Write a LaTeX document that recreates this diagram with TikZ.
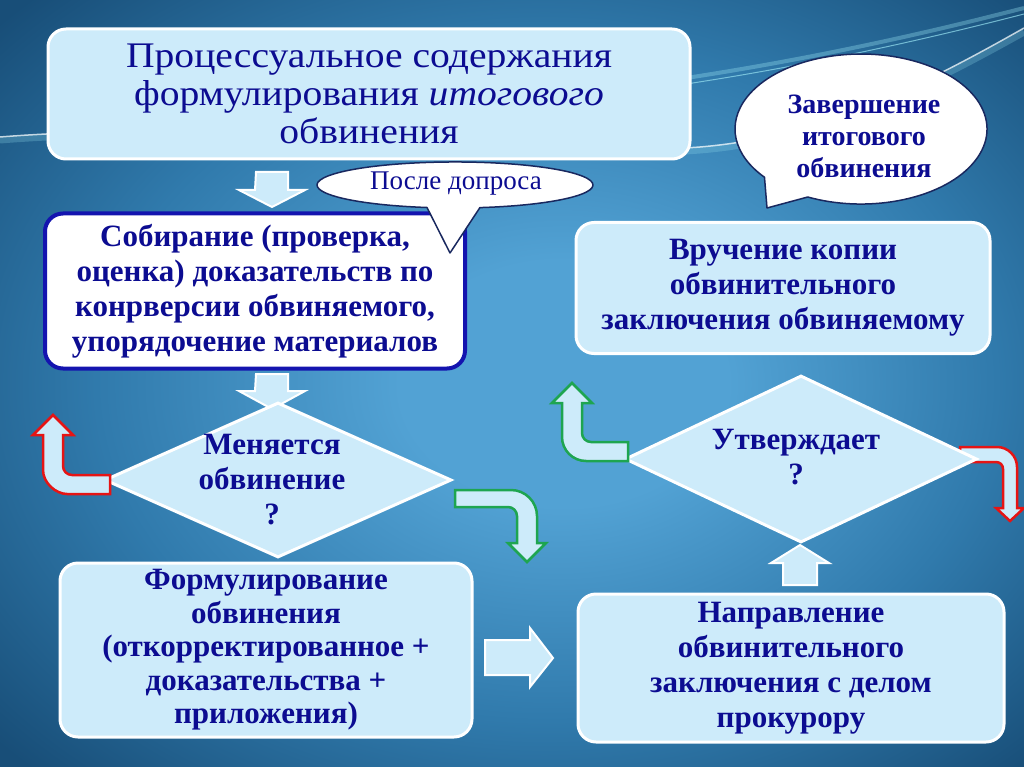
\documentclass[tikz,border=0pt]{standalone}
\usepackage{fontspec}
\setmainfont{Liberation Serif}
\newfontfamily\titlefont[FakeStretch=1.1]{Liberation Serif}
\usetikzlibrary{shapes.geometric}
\definecolor{boxfill}{RGB}{205,235,250}
\definecolor{txtblue}{RGB}{12,12,145}
\definecolor{bgin}{RGB}{82,162,212}
\definecolor{bgmid}{RGB}{48,122,172}
\definecolor{bgout}{RGB}{24,78,120}
\definecolor{redline}{RGB}{230,20,20}
\definecolor{greenline}{RGB}{30,165,80}
\definecolor{navyline}{RGB}{25,40,95}
\definecolor{bordblue}{RGB}{20,20,175}
\definecolor{wavecol}{RGB}{150,225,240}
\pgfdeclareradialshading{bgshade}{\pgfpoint{3bp}{0bp}}{color(0bp)=(bgin); color(8bp)=(bgin); color(22bp)=(bgmid); color(35bp)=(bgout); color(50bp)=(bgout)}
\newcommand\titletxt{\titlefont\fontsize{36}{38}\selectfont}
\newcommand\boldtxt{\bfseries\fontsize{31}{35}\selectfont}
\newcommand\bubbletxt{\bfseries\fontsize{28}{32}\selectfont}
\begin{document}
\begin{tikzpicture}[x=1pt,y=-1pt,
  box/.style={draw=white, line width=3pt, fill=boxfill, rounded corners=18pt,
    align=center, text=txtblue, inner sep=0pt, font=\boldtxt},
  qshape/.style={diamond, draw=white, line width=3pt, fill=boxfill, inner sep=0pt},
  qtxt/.style={align=center, text=txtblue, font=\boldtxt},
  bubble/.style={draw=navyline, line width=1.5pt, fill=white, line join=round},
  whitearrow/.style={draw=white, line width=2pt, fill=boxfill},
  redarrow/.style={draw=redline, line width=2.5pt, fill=boxfill},
  greenarrow/.style={draw=greenline, line width=2.5pt, fill=boxfill}]
  % 背景
  \useasboundingbox (0,0) rectangle (1024,767);
  \shade[shading=bgshade] (0,0) rectangle (1024,767);
  \draw[wavecol, line width=7pt, opacity=.25] (0,140) .. controls (250,120) and (500,165) .. (700,150)
    .. controls (820,140) and (920,90) .. (1024,32);
  \draw[white, line width=1.5pt, opacity=.7] (0,137) .. controls (250,117) and (500,162) .. (700,147)
    .. controls (820,137) and (920,87) .. (1024,28);
  \draw[wavecol, line width=4pt, opacity=.35] (600,90) .. controls (760,70) and (900,40) .. (1024,8);
  \draw[wavecol, line width=1pt, opacity=.7] (600,96) .. controls (760,76) and (900,46) .. (1024,14);
  % 标题
  \node[box, minimum width=642, minimum height=130, font=\titletxt] (title) at (369,94)
    {Процессуальное содержания\\формулирования \textit{итогового}\\обвинения};
  % 左列
  \node[box, draw=bordblue, line width=4pt, fill=white, minimum width=420, minimum height=155] (collect) at (255,291)
    {Собирание (проверка,\\оценка) доказательств по\\конрверсии обвиняемого,\\упорядочение материалов};
  \node[box, minimum width=412, minimum height=174, font=\bfseries\fontsize{31}{33.5}\selectfont] (formula) at (266,650)
    {Формулирование\\обвинения\\(откорректированное +\\доказательства +\\приложения)};
  % 右列
  \node[box, minimum width=426, minimum height=148] (send) at (791,668)
    {Направление\\обвинительного\\заключения с делом\\прокурору};
  \node[box, minimum width=414, minimum height=131] (handover) at (783,288)
    {Вручение копии\\обвинительного\\заключения обвиняемому};
  % 直箭头
  \draw[whitearrow] (256,172) -- ++(32,0) -- ++(0,18) -- ++(17,0) -- ++(-33,17) -- ++(-33,-17) -- ++(16,0) -- cycle;
  \draw[whitearrow] (256,374) -- ++(32,0) -- ++(0,17) -- ++(17,0) -- ++(-33,18) -- ++(-33,-18) -- ++(16,0) -- cycle;
  \draw[whitearrow] (485,640) -- ++(45,0) -- ++(0,-12) -- ++(23,30) -- ++(-23,29) -- ++(0,-12) -- ++(-45,0) -- cycle;
  \draw[whitearrow] (783,585) -- ++(0,-22) -- ++(-12,0) -- ++(29,-18) -- ++(29,18) -- ++(-12,0) -- ++(0,22) -- cycle;
  % 红箭头（右）
  \draw[redarrow] (960,447) -- (997,447) .. controls (1008,447) and (1017,456) .. (1017,467) -- (1017,508)
    -- (1024,508) -- (1010,521) -- (996,508) -- (1003,508) -- (1003,469)
    .. controls (1003,465) and (1000,462) .. (996,462) -- (960,462) -- cycle;
  % 判断
  \node[qshape, minimum width=347, minimum height=155] (q1) at (278,480) {};
  \node[qtxt] (q1t) at (272,480) {Меняется\\обвинение\\?};
  \node[qshape, minimum width=352, minimum height=167] (q2) at (801,459) {};
  \node[qtxt] (q2t) at (796,457) {Утверждает\\?};
  % 红箭头（左）
  \draw[redarrow] (110,475) -- (72,475) .. controls (67,475) and (63,471) .. (63,466) -- (63,435) -- (73,435)
    -- (53,415) -- (33,435) -- (43,435) -- (43,470) .. controls (43,483.2) and (56.2,494) .. (67,494)
    -- (110,494) -- cycle;
  % 绿箭头
  \draw[greenarrow] (455,490) -- (511,490) .. controls (525.3,490) and (537,501.7) .. (537,516) -- (537,543)
    -- (546,543) -- (527,562) -- (508,543) -- (517,543) -- (517,516) .. controls (517,511) and (513,507) .. (508,507)
    -- (455,507) -- cycle;
  \draw[greenarrow] (628,442) -- (591,442) .. controls (586,442) and (582,438) .. (582,433) -- (582,403)
    -- (592,403) -- (572,383) -- (552,403) -- (562,403) -- (562,437) .. controls (562,450.2) and (572.8,461) .. (586,461)
    -- (628,461) -- cycle;
  % 气泡
  \filldraw[bubble] (479.9,207.6) arc[start angle=79.6, end angle=-258.3, x radius=138, y radius=23] -- (450,253) -- cycle;
  \node[text=txtblue, font=\fontsize{27}{30}\selectfont] (after) at (456,184) {После допроса};
  \filldraw[bubble] (807.75,197) arc[start angle=115, end angle=-220, x radius=126, y radius=75] -- (767,208) -- cycle;
  \node[align=center, text=txtblue, font=\bubbletxt] (finish) at (864,136) {Завершение\\итогового\\обвинения};
\end{tikzpicture}
\end{document}
